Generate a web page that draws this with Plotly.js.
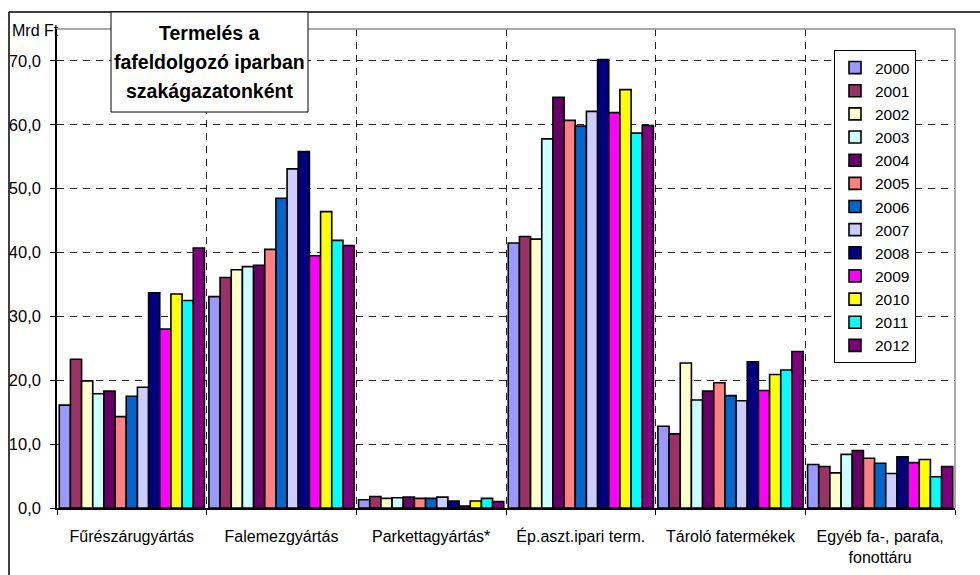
<!DOCTYPE html>
<html>
<head>
<meta charset="utf-8">
<script src="https://cdn.plot.ly/plotly-3.0.1.min.js"></script>
<style>
html,body{margin:0;padding:0;background:#fff;}
#chart{width:980px;height:575px;}
</style>
</head>
<body>
<div id="chart"></div>
<script>
const categories = ['Fűrészárugyártás','Falemezgyártás','Parkettagyártás*','Ép.aszt.ipari term.','Tároló fatermékek','Egyéb fa-, parafa,<br>fonottáru'];
const years = ['2000','2001','2002','2003','2004','2005','2006','2007','2008','2009','2010','2011','2012'];
const colors = ['#9999FF','#993366','#FFFFCC','#CCFFFF','#660066','#FF8080','#0066CC','#CCCCFF','#000080','#FF00FF','#FFFF00','#00FFFF','#800080'];

const y2000 = [16.1, 33.1, 1.3, 41.5, 12.8, 6.8];
const y2001 = [23.3, 36.1, 1.8, 42.5, 11.6, 6.5];
const y2002 = [19.9, 37.3, 1.5, 42.1, 22.7, 5.5];
const y2003 = [17.9, 37.8, 1.6, 57.8, 16.9, 8.4];
const y2004 = [18.3, 38.0, 1.7, 64.3, 18.3, 9.0];
const y2005 = [14.3, 40.5, 1.5, 60.7, 19.6, 7.8];
const y2006 = [17.5, 48.5, 1.5, 59.8, 17.6, 7.0];
const y2007 = [18.9, 53.1, 1.7, 62.1, 16.8, 5.4];
const y2008 = [33.7, 55.8, 1.1, 70.2, 22.9, 8.0];
const y2009 = [28.0, 39.5, 0.3, 61.9, 18.4, 7.1];
const y2010 = [33.5, 46.4, 1.1, 65.5, 20.9, 7.6];
const y2011 = [32.5, 41.9, 1.5, 58.7, 21.6, 4.9];
const y2012 = [40.7, 41.1, 1.0, 59.9, 24.5, 6.5];

const yTickVals = [0,10,20,30,40,50,60,70];
const yTickText = ['0,0','10,0','20,0','30,0','40,0','50,0','60,0','70,0'];
const titleLines = ['Termelés a','fafeldolgozó iparban','szakágazatonként'];
const unitLabel = 'Mrd Ft';

const series = [y2000,y2001,y2002,y2003,y2004,y2005,y2006,y2007,y2008,y2009,y2010,y2011,y2012];

const FONT = 'Arial, "Liberation Sans", sans-serif';

const traces = series.map((vals, i) => ({
  type: 'bar',
  name: years[i],
  x: categories,
  y: vals,
  legendgroup: 'g' + i,
  marker: {color: colors[i], line: {color: '#000', width: 1.6}},
  hoverinfo: 'x+y+name'
}));

// pixel -> paper helpers (plot area: x 57..955, y 29..508)
const L = 57, R = 955, T = 29, B = 508;
const px = v => (v - L) / (R - L);
const py = v => (B - v) / (B - T);

const shapes = [
  {type:'line', xref:'paper', yref:'paper', x0:0, x1:1, y0:1, y1:1, line:{color:'#8c8c8c', width:1.5}, layer:'above'},
  {type:'line', xref:'paper', yref:'paper', x0:1, x1:1, y0:0, y1:1, line:{color:'#8c8c8c', width:1.5}, layer:'below'},
  {type:'line', xref:'paper', yref:'paper', x0:px(9), x1:px(985), y0:py(12), y1:py(12), line:{color:'#000', width:1.5}, layer:'above'},
  {type:'line', xref:'paper', yref:'paper', x0:px(9), x1:px(9), y0:py(12), y1:py(580), line:{color:'#000', width:1.5}, layer:'above'},
  {type:'rect', xref:'paper', yref:'paper', x0:px(111), x1:px(308), y0:py(112), y1:py(12), fillcolor:'#fff', line:{color:'#000', width:1}, layer:'above'}
];

const titleY = [32.5, 62, 91];
const annotations = titleLines.map((t, i) => ({
  xref:'paper', yref:'paper', x:px(209.5), y:py(titleY[i]), xanchor:'center', yanchor:'middle',
  text:'<b>' + t + '</b>', showarrow:false, font:{family:FONT, size:19.5, color:'#000'}
}));
annotations.push({
  xref:'paper', yref:'paper', x:px(10), y:py(31), xanchor:'left', yanchor:'middle',
  text: unitLabel, showarrow:false, font:{family:FONT, size:16, color:'#000'}
});

const layout = {
  width: 980, height: 575,
  margin: {l: L, r: 980 - R, t: T, b: 575 - B, pad: 0},
  paper_bgcolor: '#fff', plot_bgcolor: '#fff',
  barmode: 'group', bargap: 0.03, bargroupgap: 0,
  font: {family: FONT, color: '#000'},
  xaxis: {
    type: 'category', tickson: 'boundaries',
    showgrid: true, gridcolor: '#222', griddash: '7px,6px', gridwidth: 1,
    showline: true, linecolor: '#000', linewidth: 2,
    ticks: 'outside', ticklen: 5, tickcolor: '#000', tickwidth: 1,
    tickfont: {family: FONT, size: 16, color: '#000'},
    ticklabelstandoff: 13,
    fixedrange: true
  },
  yaxis: {
    range: [0, 75], tickvals: yTickVals, ticktext: yTickText,
    showgrid: true, gridcolor: '#222', griddash: '7px,6px', gridwidth: 1,
    zeroline: false,
    showline: true, linecolor: '#000', linewidth: 1.5,
    ticks: 'outside', ticklen: 5, tickcolor: '#000', tickwidth: 1,
    tickfont: {family: FONT, size: 16.5, color: '#000'},
    ticklabelstandoff: 6,
    fixedrange: true
  },
  showlegend: true,
  legend: {
    x: px(834), y: py(50), xanchor: 'left', yanchor: 'top',
    bgcolor: '#fff', bordercolor: '#000', borderwidth: 1,
    font: {family: FONT, size: 15.5, color: '#000'},
    tracegroupgap: 4, itemwidth: 30,
    traceorder: 'normal'
  },
  shapes: shapes,
  annotations: annotations,
  hovermode: 'closest'
};

Plotly.newPlot('chart', traces, layout, {displayModeBar: false, staticPlot: false});
</script>
</body>
</html>
